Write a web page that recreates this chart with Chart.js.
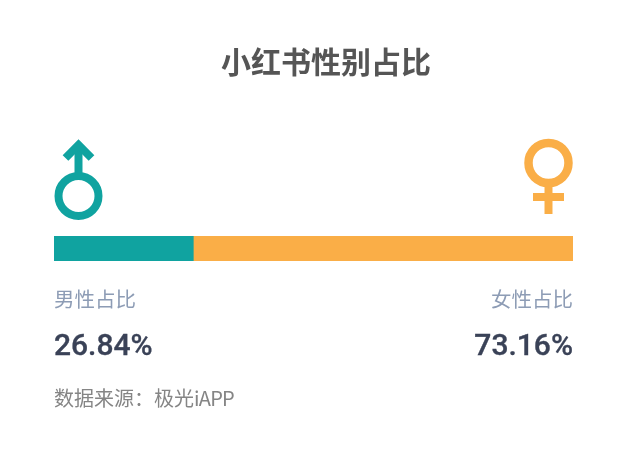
<!DOCTYPE html>
<html lang="zh-CN"><head><meta charset="utf-8">
<script src="https://cdn.jsdelivr.net/npm/chart.js@4"></script>
<style>
html,body{margin:0;padding:0;background:#fff;width:630px;height:451px;overflow:hidden}
#wrap{position:relative;width:630px;height:451px}
canvas{position:absolute;left:0;top:0}
.t{position:absolute;white-space:nowrap;font-family:"Noto Sans CJK SC",sans-serif;line-height:1}
.v{font-family:Roboto;font-size:30px;font-weight:500;color:#3A4257;-webkit-text-stroke:.35px #3A4257}
svg{position:absolute;left:0;top:0}
</style></head><body>
<div id="wrap">
<canvas id="c" width="630" height="451"></canvas>
<svg width="630" height="451">
<g fill="none" stroke="#10A3A0">
<circle cx="78.5" cy="196" r="20" stroke-width="8"/>
<path d="M78.5 173V147" stroke-width="8"/>
<path d="M65.5 158L78.5 145L91.5 158" stroke-width="8"/>
</g>
<g fill="none" stroke="#FAAE47">
<circle cx="548.5" cy="163" r="20" stroke-width="8.5"/>
<path d="M548.5 186V214" stroke-width="8"/>
<path d="M533 197H564" stroke-width="8"/>
</g>
</svg>
<div class="t" id="title" style="left:221px;top:45px;font-size:30px;font-weight:700;color:#555555"></div>
<div class="t" style="left:54px;top:288px;font-size:20.5px;color:#8D9CB5">男性占比</div>
<div class="t" style="right:57px;top:288px;font-size:20.5px;color:#8D9CB5">女性占比</div>
<div class="t v" style="left:54px;top:330px">26.84%</div>
<div class="t v" style="right:57px;top:330px">73.16%</div>
<div class="t" style="left:54px;top:388px;font-size:20px;color:#858585">数据来源：极光<span style="letter-spacing:-.75px">iAPP</span></div>
</div>
<script>
const chartTitle = "小红书性别占比";
const categories = ["性别占比"];
const seriesNames = ["男性占比", "女性占比"];
const maleValues = [26.84];
const femaleValues = [73.16];
const seriesColors = ["#10A3A0", "#FAAE47"];

document.getElementById("title").textContent = chartTitle;

new Chart(document.getElementById("c"), {
  type: "bar",
  data: {
    labels: categories,
    datasets: [
      {label: seriesNames[0], data: maleValues, backgroundColor: seriesColors[0], borderWidth: 0},
      {label: seriesNames[1], data: femaleValues, backgroundColor: seriesColors[1], borderWidth: 0}
    ]
  },
  options: {
    indexAxis: "y",
    responsive: false,
    animation: false,
    layout: {padding: {left: 54, right: 57, top: 236, bottom: 190}},
    scales: {
      x: {stacked: true, min: 0, max: 100, display: false},
      y: {stacked: true, display: false}
    },
    datasets: {bar: {barPercentage: 1, categoryPercentage: 1}},
    plugins: {
      legend: {display: false},
      tooltip: {enabled: false},
      title: {display: false}
    }
  }
});
</script>
</body></html>
